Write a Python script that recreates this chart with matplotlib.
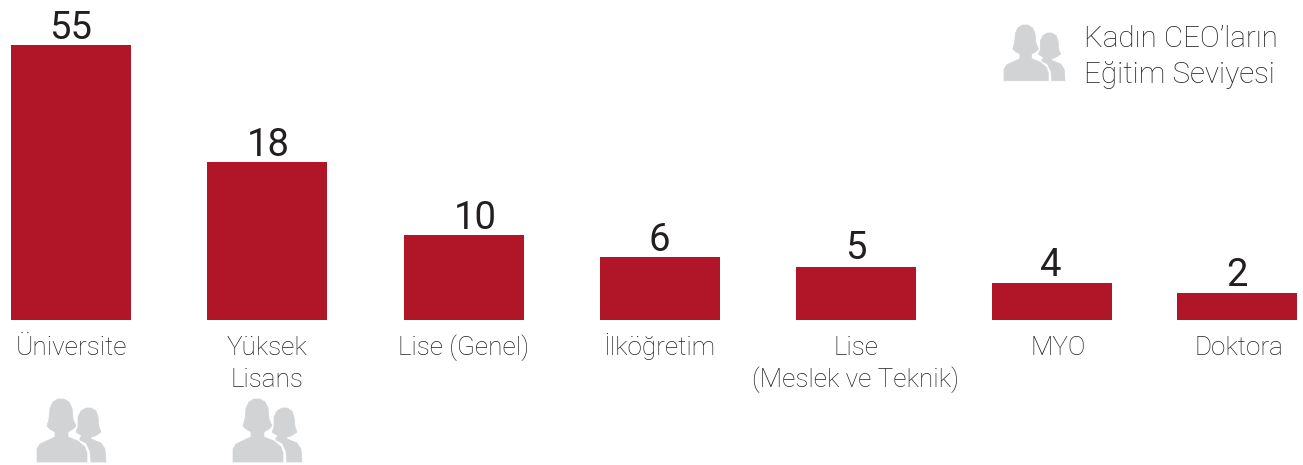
import matplotlib
matplotlib.use('Agg')
import matplotlib.pyplot as plt
from matplotlib.patches import Polygon

plt.rcParams['font.family'] = ['Roboto', 'DejaVu Sans']

categories = ['Üniversite', 'Yüksek\nLisans', 'Lise (Genel)', 'İlköğretim',
              'Lise\n(Meslek ve Teknik)', 'MYO', 'Doktora']
values = ['55', '18', '10', '6', '5', '4', '2']
# printed numbers are not to scale in the original, so heights are read separately
bar_heights = [275, 158, 85, 63, 53, 37, 27]

bar_x = [71, 267, 464, 660, 856, 1052, 1237]
label_x = [71, 267, 464, 659, 856, 1058, 1239]
value_x = [71, 268, 475, 659, 856, 1051, 1237]
value_gap = [6, 6, 6, 6, 8, 7, 7]

# icon outline, pixels relative to the top left of the icon
front = [(0, 63), (0, 50), (3, 45), (18, 38), (18, 33), (13, 30), (10, 27), (12, 20), (13, 9),
         (16, 3), (21, 0), (27, 0), (32, 3), (35, 9), (36, 20), (39, 27), (36, 30), (31, 33),
         (31, 38), (41, 42), (48, 48), (50, 54), (50, 63)]
back = [(54, 63), (53, 52), (49, 44), (43, 41), (43, 39), (45, 37), (39, 33), (41, 28),
        (41, 18), (44, 12), (49, 9), (54, 9), (59, 12), (61, 18), (62, 28), (64, 33), (58, 37),
        (54, 38), (54, 40), (64, 44), (68, 50), (69, 63)]


def draw_icon(ax, left, top, scale):
    for pts in (front, back):
        xy = [(left + x * scale, 320 - (top + y * scale)) for x, y in pts]
        ax.add_patch(Polygon(xy, closed=True, fc='#D1D3D4', ec='#D1D3D4', lw=0.5,
                             joinstyle='round'))


fig = plt.figure(figsize=(13.03, 4.65), dpi=100)
ax = fig.add_axes([0, 0, 1, 1])
ax.set_xlim(0, 1303)
ax.set_ylim(-145, 320)
ax.axis('off')

ax.bar(bar_x, bar_heights, width=120, color='#B01528')

for i in range(len(categories)):
    ax.text(value_x[i], bar_heights[i] + value_gap[i], values[i], ha='center', va='baseline',
            fontsize=27.5, color='#231F20')
    ax.text(label_x[i], -35, categories[i].split('\n')[0], ha='center', va='baseline',
            fontsize=18.8, color='#231F20', fontweight='light')
    if '\n' in categories[i]:
        ax.text(label_x[i], -67, categories[i].split('\n')[1], ha='center', va='baseline',
                fontsize=18.8, color='#231F20', fontweight='light')

draw_icon(ax, 37, 399, 1.0)
draw_icon(ax, 233, 399, 1.0)
draw_icon(ax, 1004, 25, 0.885)

ax.text(1084, 320 - 47, 'Kadın CEO’ların', ha='left', va='baseline', fontsize=21.3,
        color='#231F20', fontweight='light')
ax.text(1084, 320 - 83, 'Eğitim Seviyesi', ha='left', va='baseline', fontsize=21.3,
        color='#231F20', fontweight='light')

fig.savefig('out.png', dpi=100)
